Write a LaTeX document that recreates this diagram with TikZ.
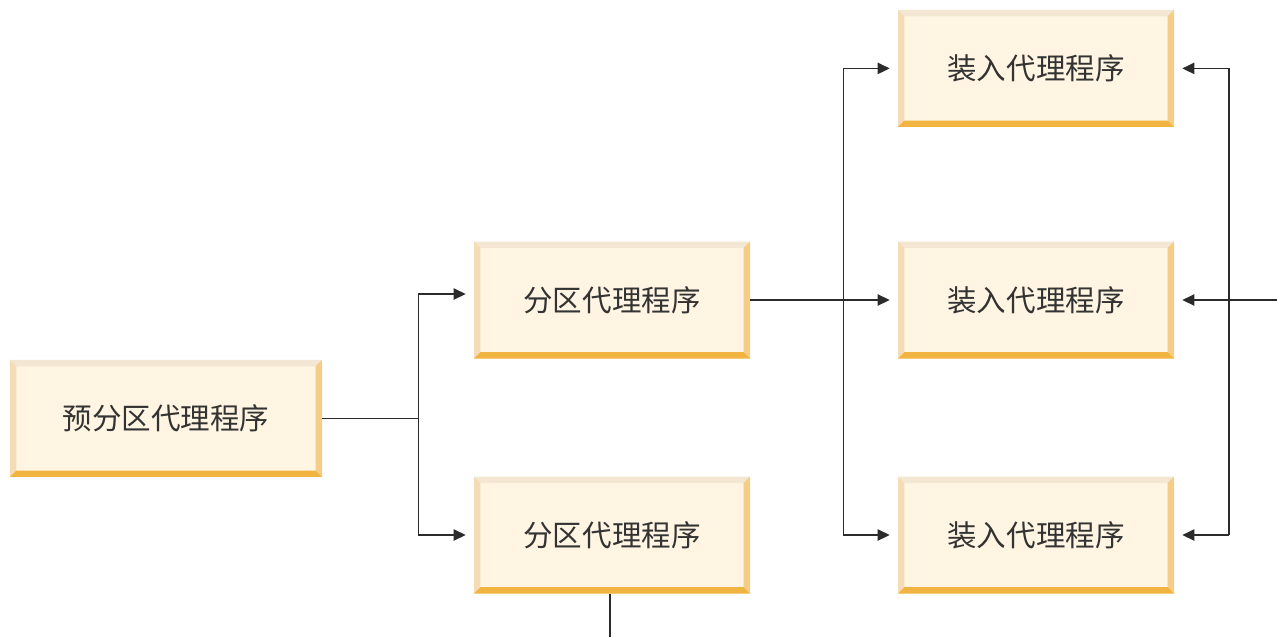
\documentclass[tikz,border=0pt]{standalone}
\usepackage{fontspec}
\usetikzlibrary{arrows.meta}
\newfontfamily\cjk{Noto Sans CJK SC}

\definecolor{boxface}{HTML}{FFF5E2}
\definecolor{beveltop}{HTML}{F3E7D3}
\definecolor{bevelleft}{HTML}{F5DCB6}
\definecolor{bevelright}{HTML}{F4CD88}
\definecolor{bevelbottom}{HTML}{F2B441}
\definecolor{linegray}{HTML}{2B2B2B}
\definecolor{textgray}{HTML}{333333}

\newcommand\bevw{0.16cm}

\tikzset{
    agentbox/.style={minimum width=6.9cm, minimum height=2.925cm, inner sep=0pt,
        fill=boxface, text=textgray, font=\cjk\fontsize{21}{25}\selectfont,
        path picture={
            \coordinate (nw) at (path picture bounding box.north west);
            \coordinate (ne) at (path picture bounding box.north east);
            \coordinate (sw) at (path picture bounding box.south west);
            \coordinate (se) at (path picture bounding box.south east);
            \fill[beveltop] (nw) -- (ne) -- ([shift={(-\bevw,-\bevw)}]ne) -- ([shift={(\bevw,-\bevw)}]nw) -- cycle;
            \fill[bevelleft] (nw) -- (sw) -- ([shift={(\bevw,\bevw)}]sw) -- ([shift={(\bevw,-\bevw)}]nw) -- cycle;
            \fill[bevelright] (ne) -- (se) -- ([shift={(-\bevw,\bevw)}]se) -- ([shift={(-\bevw,-\bevw)}]ne) -- cycle;
            \fill[bevelbottom] (sw) -- (se) -- ([shift={(-\bevw,\bevw)}]se) -- ([shift={(\bevw,\bevw)}]sw) -- cycle;
        }},
    link/.style={draw=linegray, line width=1.1pt},
    arrowlink/.style={link, -{Triangle[length=0.3cm, width=0.28cm]}},
}

\begin{document}
\begin{tikzpicture}
    \useasboundingbox (0,0) rectangle (31.925,-15.925);

    % 代理程序方框
    \node[agentbox, minimum width=7.8cm] (pre) at (4.15,-10.46) {预分区代理程序};
    \node[agentbox] (part1) at (15.3,-7.5) {分区代理程序};
    \node[agentbox] (part2) at (15.3,-13.375) {分区代理程序};
    \node[agentbox] (load1) at (25.9,-1.71) {装入代理程序};
    \node[agentbox] (load2) at (25.9,-7.5) {装入代理程序};
    \node[agentbox] (load3) at (25.9,-13.375) {装入代理程序};

    % 预分区 -> 分区
    \draw[link] (pre.east) -- ++(2.4,0) coordinate (split1);
    \draw[arrowlink] (split1) |- ([xshift=-0.2cm, yshift=0.15cm]part1.west);
    \draw[arrowlink] (split1) |- ([xshift=-0.2cm]part2.west);

    % 分区 -> 装入
    \draw[arrowlink] (part1.east) -- ([xshift=-0.2cm]load2.west);
    \coordinate (split2) at ([xshift=2.325cm]part1.east);
    \draw[link] (split2 |- load1.west) -- (split2 |- load3.west);
    \draw[arrowlink] (split2 |- load1.west) -- ([xshift=-0.2cm]load1.west);
    \draw[arrowlink] (split2 |- load3.west) -- ([xshift=-0.2cm]load3.west);

    % 右侧输入
    \coordinate (feed) at (31.925,-7.5);
    \coordinate (split3) at (30.725,-7.5);
    \draw[arrowlink] (feed) -- ([xshift=0.2cm]load2.east);
    \draw[link] (split3 |- load1.east) -- (split3 |- load3.east);
    \draw[arrowlink] (split3 |- load1.east) -- ([xshift=0.2cm]load1.east);
    \draw[arrowlink] (split3 |- load3.east) -- ([xshift=0.2cm]load3.east);

    % 分区下方输出
    \coordinate (out) at ([xshift=-0.05cm]part2.south |- 0,-15.925);
    \draw[link] ([xshift=-0.05cm]part2.south) -- (out);
\end{tikzpicture}
\end{document}
